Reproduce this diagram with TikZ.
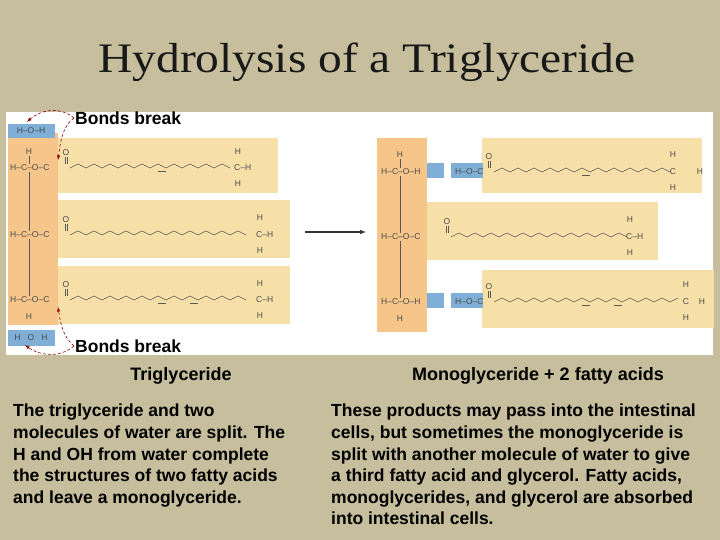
\documentclass[tikz,border=0pt]{standalone}
\usepackage{fontspec}
\setmainfont{Liberation Sans}
\newfontfamily\titlefont{Liberation Serif}
\begin{document}
\begin{tikzpicture}[x=1pt,y=-1pt,
  chem/.style={font=\fontsize{8.5}{8.5}\selectfont,text=black!70,inner sep=0pt},
  bond/.style={black!65,line width=0.6pt},
  brk/.style={red!55!black,line width=0.6pt,densely dashed,-latex},
  capbox/.style={font=\bfseries\fontsize{17.5}{21.6}\selectfont,align=left,anchor=north west,inner sep=0pt}]
\definecolor{bg}{HTML}{C6BE9C}
\definecolor{bandc}{HTML}{F7DFA8}
\definecolor{glyc}{HTML}{F5C58A}
\definecolor{bluec}{HTML}{7FAFD6}
\fill[bg] (0,0) rectangle (720,540);
\useasboundingbox (0,0) rectangle (720,540);
\fill[white] (6,112) rectangle (713,355);
\node[font=\titlefont\fontsize{42}{42}\selectfont,xscale=1.13,text=black!90] (title) at (367,62) {Hydrolysis of a Triglyceride};
% left boxes
\fill[bandc] (58,138) rectangle (278,193);
\fill[bandc] (58,200) rectangle (290,258);
\fill[bandc] (58,266) rectangle (290,324);
\fill[glyc] (8,133) rectangle (58,325);
\fill[bluec] (8,124) rectangle (55,138);
\fill[bluec] (8,330) rectangle (55,346);
% right boxes
\fill[bandc] (482,138) rectangle (702,193);
\fill[bandc] (427,202) rectangle (658,260);
\fill[bandc] (482,270) rectangle (714,328);
\fill[glyc] (377,138) rectangle (427,332);
\fill[bluec] (427,163) rectangle (444,178);
\fill[bluec] (451,163) rectangle (483,178);
\fill[bluec] (451,293) rectangle (483,308);
\fill[bluec] (427,293) rectangle (444,308);
% water
\node[chem] (w1) at (31,131) {H–O–H};
\node[chem] (w2) at (31,338) {H\hspace{7pt}O\hspace{7pt}H};
% left glycerol rows
\node[chem,anchor=west] (l1) at (10,168) {H–C–O–C};
\node[chem,anchor=west] (l2) at (10,235) {H–C–O–C};
\node[chem,anchor=west] (l3) at (10,300) {H–C–O–C};
\node[chem] (h1) at (29,152) {H};
\node[chem] (h3) at (29,317) {H};
\draw[bond] (29,156) -- (29,164) (29,172) -- (29,231) (29,239) -- (29,296);
\foreach \y in {168,235,300}{
  \node[chem] at (66,\y-15) {O};
  \draw[bond] (65,\y-11) -- (65,\y-4) (67,\y-11) -- (67,\y-4);
}
% chains left
\draw[bond] (70,168) \foreach \i in {1,...,20}{ -- ({70+\i*8},{168-4*mod(\i,2)})};
\draw[bond] (70,235) \foreach \i in {1,...,22}{ -- ({70+\i*8},{235-4*mod(\i,2)})};
\draw[bond] (70,300) \foreach \i in {1,...,22}{ -- ({70+\i*8},{300-4*mod(\i,2)})};
\draw[bond] (158,171) -- (166,171);
\draw[bond] (158,303) -- (166,303) (190,303) -- (198,303);
\node[chem] at (238,152) {H};
\node[chem,anchor=west] (c1) at (234,168) {C–H};
\node[chem] at (238,184) {H};
\node[chem] at (260,218) {H};\node[chem,anchor=west] (c2) at (256,235) {C–H};\node[chem] at (260,251) {H};
\node[chem] at (260,284) {H};\node[chem,anchor=west] (c3) at (256,300) {C–H};\node[chem] at (260,316) {H};
% arrows
\node[font=\bfseries\fontsize{17.5}{17.5}\selectfont,anchor=west,inner sep=1pt] (bb1) at (74,118) {Bonds break};
\node[font=\bfseries\fontsize{17.5}{17.5}\selectfont,anchor=west,inner sep=1pt] (bb2) at (74,346) {Bonds break};
\draw[brk] (bb1.west) .. controls (60,106) and (40,110) .. (27,122);
\draw[brk] (bb1.west) .. controls (62,126) and (60,145) .. (58,160);
\draw[brk] (bb2.west) .. controls (60,358) and (40,356) .. (25,345);
\draw[brk] (bb2.west) .. controls (62,336) and (60,320) .. (58,307);
% reaction arrow
\coordinate (a0) at (305,232); \coordinate (a1) at (366,232);
\draw[black!80,line width=1pt,-latex] (a0) -- (a1);
% right side
\node[chem,anchor=west] (r1) at (381,172) {H–C–O–H};
\node[chem,anchor=west] (r2) at (381,237) {H–C–O–C};
\node[chem,anchor=west] (r3) at (381,302) {H–C–O–H};
\node[chem] at (400,155) {H};\node[chem] at (400,319) {H};
\draw[bond] (400,159) -- (400,168) (400,176) -- (400,233) (400,241) -- (400,298);
\node[chem,anchor=west] (f1) at (455,172) {H–O–C};
\node[chem,anchor=west] (f3) at (455,302) {H–O–C};
\foreach \x/\y in {489/172,489/302,447/237}{
  \node[chem] at (\x,\y-15) {O};
  \draw[bond] (\x-1,\y-11) -- (\x-1,\y-4) (\x+1,\y-11) -- (\x+1,\y-4);
}
\draw[bond] (494,172) \foreach \i in {1,...,22}{ -- ({494+\i*8},{172-4*mod(\i,2)})};
\draw[bond] (451,237) \foreach \i in {1,...,22}{ -- ({451+\i*8},{237-4*mod(\i,2)})};
\draw[bond] (494,302) \foreach \i in {1,...,23}{ -- ({494+\i*8},{302-4*mod(\i,2)})};
\draw[bond] (582,175) -- (590,175);
\draw[bond] (582,305) -- (590,305) (614,305) -- (622,305);
\node[chem] at (673,155) {H};\node[chem] (c4) at (673,172) {C};\node[chem] at (673,188) {H};\node[chem] at (700,172) {H};
\node[chem] at (630,220) {H};\node[chem,anchor=west] (c5) at (626,237) {C–H};\node[chem] at (630,253) {H};
\node[chem] at (686,285) {H};\node[chem] (c6) at (686,302) {C};\node[chem] at (686,318) {H};\node[chem] at (702,302) {H};
% captions
\node[font=\bfseries\fontsize{18}{18}\selectfont] (cap1) at (181,376) {Triglyceride};
\node[font=\bfseries\fontsize{18}{18}\selectfont] (cap2) at (538,376) {Monoglyceride + 2 fatty acids};
\node[capbox] (p1) at (13,404) {The triglyceride and two\\molecules of water are split. The\\H and OH from water complete\\the structures of two fatty acids\\and leave a monoglyceride.};
\node[capbox] (p2) at (331,404) {These products may pass into the intestinal\\cells, but sometimes the monoglyceride is\\split with another molecule of water to give\\a third fatty acid and glycerol. Fatty acids,\\monoglycerides, and glycerol are absorbed\\into intestinal cells.};
\end{tikzpicture}
\end{document}
